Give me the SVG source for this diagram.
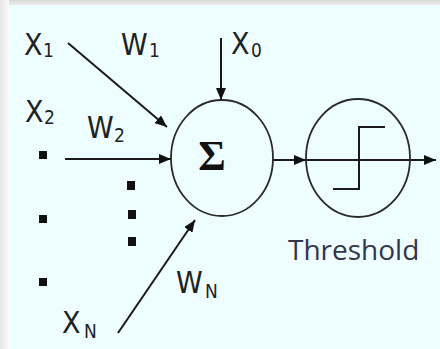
<svg xmlns="http://www.w3.org/2000/svg" width="440" height="349" viewBox="0 0 440 349">
  <defs>
    <linearGradient id="topg" x1="0" y1="0" x2="0" y2="1">
      <stop offset="0" stop-color="#d8d8d8"/>
      <stop offset="1" stop-color="#f2f2f2"/>
    </linearGradient>
    <linearGradient id="leftg" x1="0" y1="0" x2="1" y2="0">
      <stop offset="0" stop-color="#e6e6e6"/>
      <stop offset="1" stop-color="#fafafa"/>
    </linearGradient>
    <marker id="arr" viewBox="0 0 12 10" refX="12" refY="5" markerWidth="12" markerHeight="10" markerUnits="userSpaceOnUse" orient="auto">
      <path d="M0,0 L12,5 L0,10 Z" fill="#111"/>
    </marker>
    <style>
      .lbl { font-family: "DejaVu Sans", "Liberation Sans", sans-serif; font-stretch: condensed; font-size: 30px; fill: #222; }
      .sub { font-family: "DejaVu Sans", "Liberation Sans", sans-serif; font-stretch: condensed; font-size: 19px; fill: #222; }
      .edge { stroke: #1a1a1a; stroke-width: 2; fill: none; marker-end: url(#arr); }
      .node { fill: none; stroke: #2a2a2a; stroke-width: 1.8; }
      .dot { fill: #111; }
    </style>
  </defs>

  <rect x="0" y="0" width="440" height="349" fill="#f7f7f7"/>
  <rect x="0" y="0" width="440" height="6" fill="url(#topg)"/>
  <rect x="0" y="0" width="9" height="349" fill="url(#leftg)"/>
  <rect x="9" y="5" width="431" height="344" fill="#eefdff"/>

  <g id="connectors">
    <line class="edge" x1="68" y1="43" x2="167" y2="127"/>
    <line class="edge" x1="65" y1="159" x2="171" y2="159"/>
    <line class="edge" x1="118" y1="333" x2="195" y2="220"/>
    <line class="edge" x1="221" y1="38" x2="221" y2="100"/>
    <line class="edge" x1="273" y1="160" x2="306" y2="160"/>
    <line class="edge" x1="306" y1="160" x2="436" y2="160"/>
  </g>

  <g id="sum">
    <ellipse class="node" cx="222" cy="158" rx="51" ry="58"/>
    <text x="212" y="170" text-anchor="middle" font-family="'Liberation Serif', serif" font-weight="bold" font-size="42" fill="#111">Σ</text>
  </g>

  <g id="threshold">
    <ellipse class="node" cx="358" cy="158" rx="52" ry="59"/>
    <path d="M333,189 H359 V127 H385" fill="none" stroke="#1a1a1a" stroke-width="2"/>
    <text x="288" y="260" font-family="'Open Sans', sans-serif" font-size="28" fill="#34344a">Threshold</text>
  </g>

  <g id="x1"><text class="lbl" x="24" y="55">X</text><text class="sub" x="43" y="57">1</text></g>
  <g id="w1"><text class="lbl" x="121" y="55">W</text><text class="sub" x="149" y="57">1</text></g>
  <g id="x0"><text class="lbl" x="231" y="54">X</text><text class="sub" x="251" y="57">0</text></g>
  <g id="x2"><text class="lbl" x="25" y="122">X</text><text class="sub" x="44" y="124">2</text></g>
  <g id="w2"><text class="lbl" x="87" y="138">W</text><text class="sub" x="114" y="142">2</text></g>
  <g id="xn"><text class="lbl" x="62" y="333">X</text><text class="sub" x="84" y="338">N</text></g>
  <g id="wn"><text class="lbl" x="176" y="293">W</text><text class="sub" x="205" y="298">N</text></g>

  <g id="dots">
    <rect class="dot" x="39" y="151" width="8" height="8"/>
    <rect class="dot" x="39" y="215" width="8" height="8"/>
    <rect class="dot" x="39" y="278" width="8" height="8"/>
    <rect class="dot" x="127" y="181" width="8" height="9"/>
    <rect class="dot" x="128" y="210" width="8" height="9"/>
    <rect class="dot" x="128" y="237" width="8" height="9"/>
  </g>
</svg>
